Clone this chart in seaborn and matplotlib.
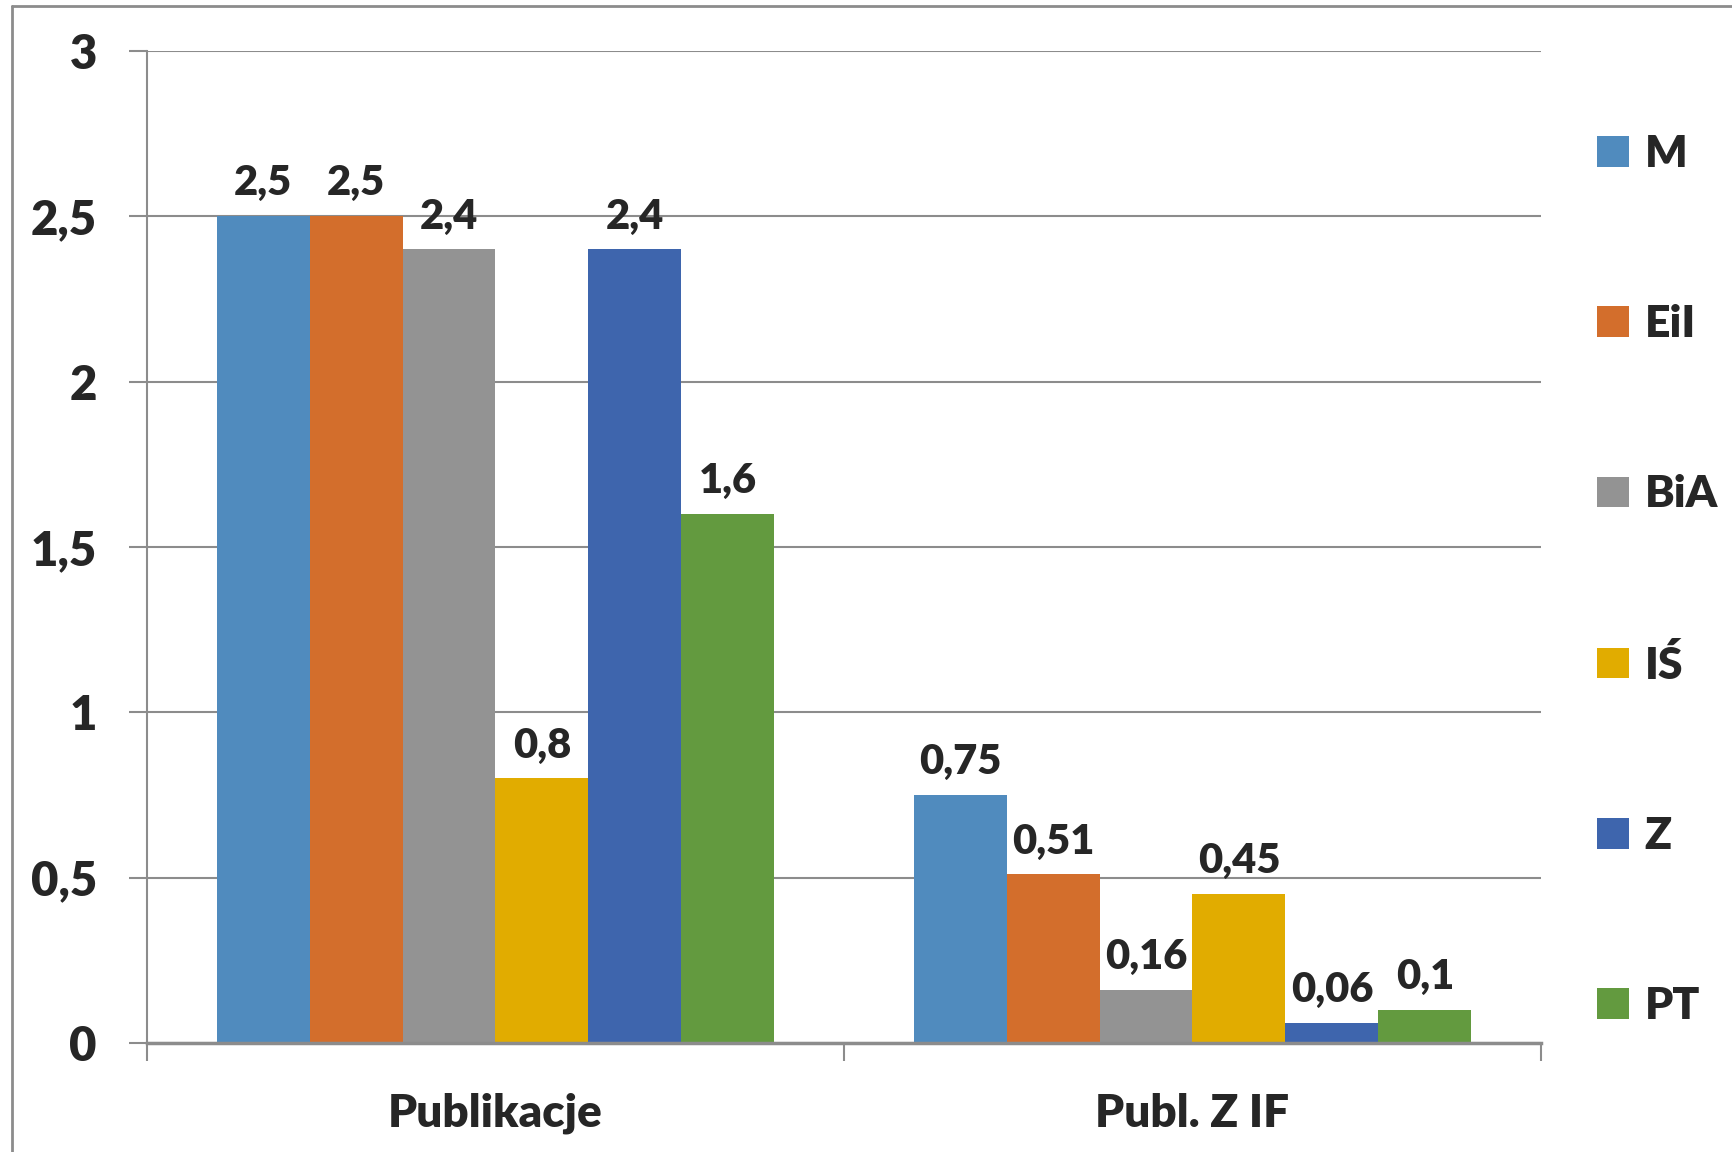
import numpy as np
import pandas as pd
import matplotlib
matplotlib.use("Agg")
import matplotlib.pyplot as plt
import seaborn as sns
from matplotlib.lines import Line2D

# chart data
kategorie = ["Publikacje", "Publ. Z IF"]
serie = ["M", "EiI", "BiA", "IŚ", "Z", "PT"]
publikacje = [2.5, 2.5, 2.4, 0.8, 2.4, 1.6]
publ_z_if = [0.75, 0.51, 0.16, 0.45, 0.06, 0.1]
y_ticks = [0, 0.5, 1, 1.5, 2, 2.5, 3]
y_tick_labels = ["0", "0,5", "1", "1,5", "2", "2,5", "3"]

kolory = ["#508BBE", "#D36E2C", "#939393", "#E1AC00", "#3E65AD", "#639A3F"]

df = pd.DataFrame({
    "kat": [kategorie[0]] * len(serie) + [kategorie[1]] * len(serie),
    "seria": serie * 2,
    "val": publikacje + publ_z_if,
})

sns.set_style("white")
plt.rcParams["font.family"] = ["Lato", "DejaVu Sans"]
plt.rcParams["font.weight"] = "bold"

fig = plt.figure(figsize=(17.33, 11.52), dpi=100)
ax = fig.add_axes([147 / 1733, 1 - 1043 / 1152, (1541 - 147) / 1733, (1043 - 51) / 1152])

sns.barplot(data=df, x="kat", y="val", hue="seria", hue_order=serie, order=kategorie,
            palette=kolory, width=0.8, gap=0, saturation=1, linewidth=0, ax=ax)

for cont in ax.containers:
    vals = [b.get_height() for b in cont]
    ax.bar_label(cont, labels=[f"{v:g}".replace(".", ",") for v in vals],
                 padding=10, fontsize=30, fontweight="heavy")

ax.set_ylim(0, 3)
ax.set_xlim(-0.5, 1.5)
ax.set_yticks(y_ticks)
ax.set_yticklabels(y_tick_labels, fontsize=34, fontweight="heavy")
ax.tick_params(axis="y", length=13, width=1.5, color="#8C8C8C", pad=23, left=True)
ax.set_xticks([0, 1])
ax.set_xticklabels(kategorie, fontsize=33, fontweight="heavy")
ax.tick_params(axis="x", which="major", length=0, pad=36)
ax.set_xticks([-0.5, 0.5, 1.5], minor=True)
ax.tick_params(axis="x", which="minor", length=13, width=1.5, color="#8C8C8C", bottom=True)
ax.set_xlabel("")
ax.set_ylabel("")

ax.grid(axis="y", color="#8C8C8C", linewidth=1.5)
ax.set_axisbelow(True)
for s in ["top", "right"]:
    ax.spines[s].set_visible(False)
ax.spines["left"].set_color("#8C8C8C")
ax.spines["left"].set_linewidth(1.5)
ax.spines["bottom"].set_color("#8C8C8C")
ax.spines["bottom"].set_linewidth(2.5)

handles, labels = ax.get_legend_handles_labels()
ax.get_legend().remove()
fig.legend(handles, labels, loc="center left", bbox_to_anchor=(1597 / 1733, 1 - 580 / 1152),
           frameon=False, prop={"weight": "heavy", "size": 32},
           handlelength=0.72, handleheight=0.68, handletextpad=0.35,
           labelspacing=2.93, borderpad=0, borderaxespad=0)

# outer chart border (left and top only are inside the picture)
fig.add_artist(Line2D([12 / 1733, 12 / 1733], [0, 1 - 6 / 1152], color="#8C8C8C", linewidth=2))
fig.add_artist(Line2D([12 / 1733, 1], [1 - 6 / 1152, 1 - 6 / 1152], color="#8C8C8C", linewidth=2))

fig.savefig("out.png", dpi=100)
